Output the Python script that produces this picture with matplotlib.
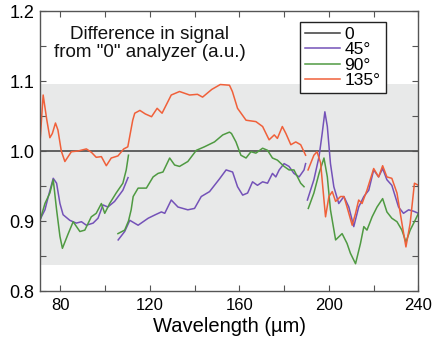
import numpy as np
import matplotlib
matplotlib.use('Agg')
import matplotlib.pyplot as plt
from matplotlib.ticker import MultipleLocator

plt.rcParams['font.family'] = ['Liberation Sans', 'DejaVu Sans']

# 135 deg analyzer (two pieces)
x135_a = [71.0, 72.4, 74.0, 75.4, 76.5, 77.9, 79.0, 80.5, 82.1, 85.0, 88.0, 91.7, 94.0, 96.1,
          98.4, 100.6, 102.8, 105.8, 108.4, 110.2, 112.4, 113.3, 115.6, 118.0, 120.8, 123.3,
          125.5, 129.6, 133.3, 137.8, 141.3, 143.6, 147.7, 151.5, 155.6, 156.9, 159.2, 163.0,
          167.4, 170.4, 173.3, 175.6, 177.0, 179.2, 180.8, 183.0, 185.2, 187.4, 189.6]
y135_a = [1.013, 1.080, 1.045, 1.019, 1.025, 1.040, 1.030, 1.000, 0.985, 0.999, 1.000, 1.003,
          0.998, 0.991, 0.992, 0.979, 0.990, 0.993, 1.003, 1.006, 1.044, 1.054, 1.058, 1.053,
          1.049, 1.061, 1.054, 1.080, 1.085, 1.080, 1.081, 1.077, 1.088, 1.095, 1.094, 1.085,
          1.061, 1.044, 1.042, 1.035, 1.016, 1.023, 1.018, 1.035, 1.025, 1.009, 1.013, 1.009,
          0.994]
x135_b = [190.7, 193.3, 194.7, 196.3, 197.8, 198.5, 200.0, 201.5, 203.0, 205.2, 206.7, 208.1,
          210.4, 211.9, 213.3, 214.8, 217.0, 220.0, 222.2, 224.0, 225.9, 228.1, 230.4, 232.6,
          234.4, 236.3, 238.2, 240.0]
y135_b = [0.973, 0.994, 0.999, 0.983, 0.930, 0.906, 0.935, 0.942, 0.928, 0.935, 0.935, 0.920,
          0.894, 0.911, 0.930, 0.925, 0.944, 0.975, 0.963, 0.979, 0.963, 0.961, 0.940, 0.897,
          0.863, 0.897, 0.954, 0.951]

# 45 deg analyzer (three pieces)
x45_a = [71.0, 73.2, 74.7, 76.9, 78.4, 79.9, 81.3, 84.3, 87.2, 89.5, 91.7, 94.7, 96.9, 99.1,
         101.3, 104.3, 108.0, 110.3]
y45_a = [0.902, 0.916, 0.935, 0.961, 0.954, 0.925, 0.909, 0.901, 0.897, 0.899, 0.894, 0.897,
         0.904, 0.923, 0.920, 0.928, 0.944, 0.962]
x45_b = [105.9, 108.8, 111.1, 114.8, 119.3, 122.5, 125.2, 126.7, 129.6, 132.6, 137.0, 140.0,
         143.0, 146.7, 151.1, 154.1, 157.0, 159.2, 161.5, 163.7, 165.9, 168.1, 170.4, 172.6,
         174.8, 176.3, 177.8, 180.0, 182.2, 184.4, 186.7, 188.9, 189.6]
y45_b = [0.873, 0.885, 0.901, 0.894, 0.904, 0.909, 0.913, 0.911, 0.930, 0.920, 0.916, 0.918,
         0.935, 0.942, 0.960, 0.973, 0.970, 0.949, 0.937, 0.940, 0.956, 0.951, 0.956, 0.954,
         0.968, 0.963, 0.973, 0.982, 0.978, 0.968, 0.963, 0.973, 0.982]
x45_c = [190.4, 193.3, 195.6, 197.0, 198.2, 199.3, 200.7, 202.2, 204.4, 206.7, 208.9, 211.1,
         213.3, 215.6, 217.8, 220.0, 222.2, 224.0, 225.9, 228.1, 231.1, 233.3, 235.6, 237.8,
         240.0]
y45_c = [0.930, 0.959, 0.992, 1.025, 1.056, 1.035, 0.982, 0.949, 0.925, 0.935, 0.920, 0.892,
         0.920, 0.935, 0.944, 0.973, 0.963, 0.975, 0.959, 0.951, 0.920, 0.911, 0.916, 0.914,
         0.911]

# 90 deg analyzer (three pieces)
x90_a = [71.0, 73.2, 75.4, 76.9, 78.4, 79.9, 81.0, 83.6, 85.8, 88.8, 91.0, 93.9, 96.1, 98.4,
         99.9, 102.1, 105.0, 108.0, 109.5, 110.5]
y90_a = [0.901, 0.925, 0.940, 0.959, 0.916, 0.878, 0.861, 0.882, 0.899, 0.885, 0.887, 0.906,
         0.911, 0.925, 0.911, 0.925, 0.940, 0.954, 0.973, 0.994]
x90_b = [105.8, 108.8, 110.5, 111.7, 112.6, 114.8, 118.5, 121.5, 123.7, 125.9, 128.9, 131.1,
         133.3, 137.0, 140.8, 144.4, 148.9, 152.6, 155.6, 156.5, 158.5, 160.7, 163.0, 165.2,
         167.4, 170.4, 172.6, 174.8, 177.0, 180.0, 182.2, 184.4, 187.4, 188.9]
y90_b = [0.882, 0.887, 0.900, 0.916, 0.935, 0.947, 0.947, 0.963, 0.968, 0.970, 0.990, 0.980,
         0.978, 0.985, 1.001, 1.006, 1.013, 1.023, 1.027, 1.025, 1.013, 0.994, 0.990, 0.999,
         0.997, 1.004, 1.001, 0.990, 0.987, 0.978, 0.973, 0.973, 0.954, 0.949]
x90_c = [190.8, 193.3, 195.6, 197.8, 199.3, 200.7, 203.0, 205.9, 208.1, 209.6, 211.9, 214.1,
         215.6, 217.0, 219.3, 221.5, 224.0, 225.9, 228.1, 230.4, 232.6, 234.4, 236.3, 238.5,
         240.0]
y90_c = [0.918, 0.940, 0.968, 0.990, 0.963, 0.916, 0.873, 0.882, 0.868, 0.854, 0.839, 0.868,
         0.892, 0.887, 0.906, 0.920, 0.932, 0.913, 0.904, 0.899, 0.887, 0.870, 0.887, 0.901,
         0.911]

ref_level = 1.0          # the "0" analyzer
band_lo, band_hi = 0.837, 1.096

c0, c45, c90, c135 = '#3c3c3c', '#7452b8', '#4f9a42', '#f0603a'
lw = 1.1

fig = plt.figure(figsize=(4.35, 3.44), dpi=100)
ax = fig.add_axes([0.092, 0.154, 0.870, 0.814])

ax.axhspan(band_lo, band_hi, color='#e8e9e9', lw=0, zorder=0)
ax.axhline(ref_level, color=c0, lw=1.1, label='0', zorder=1)

ax.plot(x45_a, y45_a, color=c45, lw=lw, label='45°')
ax.plot(x45_b, y45_b, color=c45, lw=lw)
ax.plot(x45_c, y45_c, color=c45, lw=lw)
ax.plot(x90_a, y90_a, color=c90, lw=lw, label='90°')
ax.plot(x90_b, y90_b, color=c90, lw=lw)
ax.plot(x90_c, y90_c, color=c90, lw=lw)
ax.plot(x135_a, y135_a, color=c135, lw=lw, label='135°')
ax.plot(x135_b, y135_b, color=c135, lw=lw)

ax.set_xlim(71, 240)
ax.set_ylim(0.8, 1.2)
ax.xaxis.set_major_locator(MultipleLocator(40))
ax.xaxis.set_minor_locator(MultipleLocator(20))
ax.yaxis.set_major_locator(MultipleLocator(0.1))
ax.yaxis.set_minor_locator(MultipleLocator(0.05))
ax.set_yticks([0.8, 0.9, 1.0, 1.1, 1.2])
ax.set_yticklabels(['0.8', '0.9', '1.0', '1.1', '1.2'])
ax.tick_params(which='both', direction='in', top=True, right=True,
               length=4, width=0.8, color='#555555', labelsize=13, pad=4)
ax.tick_params(axis='x', which='major', pad=5, labelsize=12)
for s in ax.spines.values():
    s.set_color('#555555')
    s.set_linewidth(1.0)

ax.set_xlabel('Wavelength (\u00b5m)', fontsize=14.5, labelpad=3)

ax.text(120, 1.154, 'Difference in signal\nfrom "0" analyzer (a.u.)', fontsize=13.5,
        ha='center', va='center', linespacing=1.05, color='#111111')

leg = ax.legend(loc='upper right', bbox_to_anchor=(0.913, 0.961), fontsize=12.5,
                frameon=True, fancybox=False, handlelength=2.0, handletextpad=0.25,
                labelspacing=0.0, borderpad=0.3, borderaxespad=0)
leg.get_frame().set_edgecolor('#222222')
leg.get_frame().set_linewidth(1.0)
leg.get_frame().set_alpha(1)

fig.savefig('out.png', dpi=100)
